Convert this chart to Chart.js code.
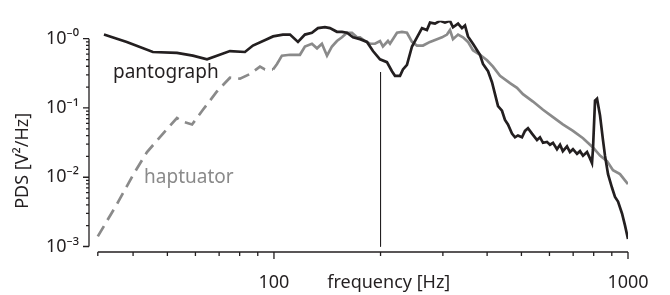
<!DOCTYPE html>
<html>
<head>
<meta charset="utf-8">
<script src="https://cdn.jsdelivr.net/npm/chart.js@4.4.0/dist/chart.umd.min.js"></script>
<style>
  html, body { margin: 0; padding: 0; background: #fff; }
  canvas { display: block; }
</style>
</head>
<body>
<canvas id="pds" width="670" height="295"></canvas>
<script>
// pantograph spectrum (black)
const pantoFreq = [33.1, 38.4, 45.5, 53.2, 59.0, 64.7, 69.0, 75.1, 82.8, 87.2, 95.5, 99.4, 106, 111, 116.9, 122.3, 128, 133.1, 139.3, 143.9,
  150.6, 155.6, 160.8, 167.2, 175, 183.1, 190.4, 199.3, 208.5, 215.4, 219.7, 227, 231.4, 237.5, 245.4, 253.5, 261.9, 270.4, 275.9, 285,
  294.4, 304.1, 314.2, 320.4, 331.1, 339.6, 346.4, 353.2, 364.8, 381.9, 389.4, 402.4, 412.9, 421.1, 429.4, 440.6, 449.3, 458.1, 470.2, 479.5,
  488.8, 501.9, 511.7, 521.8, 535.6, 553.3, 564.2, 575.4, 590.4, 602.1, 614, 630.1, 642.7, 654.6, 672.5, 685.5, 699.2, 717.7, 731.9, 746.4,
  766, 781, 791.2, 796.3, 807, 817.6, 833.6, 849.9, 861, 878.2, 901.3, 919, 937.2, 961.8, 980.6, 1000];
const pantoPds = [1.147, 0.899, 0.643, 0.623, 0.569, 0.504, 0.569, 0.663, 0.643, 0.796, 0.985, 1.079, 1.147, 1.147, 0.899, 1.147, 1.219, 1.42, 1.464, 1.42,
  1.257, 1.257, 1.219, 1.047, 0.985, 0.899, 0.663, 0.504, 0.459, 0.339, 0.291, 0.291, 0.36, 0.419, 0.772, 1.047, 1.42, 1.336, 1.705, 1.654,
  1.81, 1.705, 1.81, 1.464, 1.654, 1.42, 1.556, 1.079, 0.846, 0.586, 0.432, 0.339, 0.235, 0.158, 0.1063, 0.0913, 0.0673, 0.0578, 0.0426, 0.0377,
  0.0401, 0.0377, 0.0467, 0.0511, 0.0426, 0.0344, 0.0377, 0.0314, 0.0324, 0.0295, 0.0314, 0.0254, 0.0295, 0.0238, 0.0278, 0.0231, 0.0254, 0.0218, 0.0238, 0.0205,
  0.0231, 0.0187, 0.016, 0.0254, 0.1276, 0.1357, 0.0783, 0.0344, 0.0205, 0.0111, 0.00704, 0.00519, 0.00446, 0.003, 0.00202, 0.00128];

// haptuator below 100 Hz (dashed)
const haptLowFreq = [31.8, 36.0, 40.0, 42.7, 43.8, 48.6, 53.2, 55.3, 58.7, 63.0, 69.0, 75.1, 80.2, 85.5, 91.3, 94.3, 99.4];
const haptLowPds = [0.0014, 0.00407, 0.0108, 0.0187, 0.0231, 0.0426, 0.0715, 0.0633, 0.0578, 0.0941, 0.173, 0.2735, 0.265, 0.309, 0.395, 0.36, 0.36];

// haptuator from 100 Hz up (solid)
const haptFreq = [99.4, 102, 105.3, 111, 118.4, 122.3, 128, 132.3, 136.6, 141.2, 145.8, 150.6, 155.6, 160.8, 166.1, 171.6, 175, 180.7, 186.8, 192.9,
  199.3, 203.1, 209.9, 212.7, 222.6, 229.9, 237.5, 245.4, 253.5, 263.6, 275.9, 288.7, 298.3, 308.1, 314.2, 320.4, 331.1, 341.9, 353.2, 364.8,
  381.9, 399.8, 415.6, 435, 464.2, 485.8, 505, 539.1, 575.4, 614, 654.6, 699.2, 746.4, 781, 796.3, 833.6, 872.5, 907.1, 949.3, 1000];
const haptPds = [0.36, 0.432, 0.569, 0.586, 0.586, 0.772, 0.846, 0.726, 0.846, 0.569, 0.772, 0.927, 1.047, 1.219, 1.219, 1.047, 1.047, 0.927, 0.846, 0.846,
  0.927, 0.772, 0.927, 0.846, 1.219, 1.257, 1.219, 0.899, 0.796, 0.796, 0.899, 0.985, 1.047, 1.147, 1.336, 0.985, 1.147, 1.047, 0.899, 0.683,
  0.586, 0.489, 0.395, 0.291, 0.2278, 0.1956, 0.158, 0.1238, 0.0941, 0.0737, 0.0578, 0.0467, 0.0366, 0.0295, 0.0269, 0.0205, 0.0171, 0.0126, 0.0111, 0.00796];

// thin vertical marker at 200 Hz
const markerFreq = [200, 200];
const markerPds = [0.33, 0.001];

const yTicks = [0.001, 0.01, 0.1, 1];
const yTickLabels = ['10⁻³', '10⁻²', '10⁻¹', '10⁻⁰'];
const xTicks = [100, 1000];
const xTickLabels = ['100', '1000'];
const xMinorTicks = [31.8, 40, 50, 60, 70, 80, 90, 200, 300, 400, 500, 600, 700, 800, 900];
const xAxisStart = 31.8;

const ink = '#231f20';
const grey = '#8a8a8a';
const fontFamily = '"Noto Sans", "DejaVu Sans", sans-serif';

const toPoints = (f, v) => f.map((x, i) => ({ x: x, y: v[i] }));

// axis lines, tick marks, titles and the two curve names
const frame = {
  id: 'frame',
  afterDraw(chart) {
    const { ctx, chartArea: a, scales: { x, y } } = chart;
    ctx.save();
    ctx.strokeStyle = ink;
    ctx.lineWidth = 1.3;
    ctx.beginPath();
    // y axis
    const yTop = y.getPixelForValue(1);
    const yBot = y.getPixelForValue(0.001);
    ctx.moveTo(a.left, yTop);
    ctx.lineTo(a.left, yBot);
    yTicks.forEach(v => {
      const p = y.getPixelForValue(v);
      ctx.moveTo(a.left - 6, p);
      ctx.lineTo(a.left, p);
    });
    for (let n = -3; n < 0; n++) {
      for (let k = 2; k <= 9; k++) {
        const p = y.getPixelForValue(k * Math.pow(10, n));
        ctx.moveTo(a.left - 3, p);
        ctx.lineTo(a.left, p);
      }
    }
    // x axis
    ctx.moveTo(x.getPixelForValue(xAxisStart), a.bottom);
    ctx.lineTo(x.getPixelForValue(1000), a.bottom);
    xTicks.forEach(v => {
      const p = x.getPixelForValue(v);
      ctx.moveTo(p, a.bottom);
      ctx.lineTo(p, a.bottom + 7);
    });
    xMinorTicks.forEach(v => {
      const p = x.getPixelForValue(v);
      ctx.moveTo(p, a.bottom);
      ctx.lineTo(p, a.bottom + 4);
    });
    ctx.stroke();

    ctx.fillStyle = ink;
    ctx.font = '18px ' + fontFamily;
    ctx.textAlign = 'center';
    ctx.textBaseline = 'alphabetic';
    ctx.fillText('frequency [Hz]', x.getPixelForValue(211), a.bottom + 36);

    ctx.save();
    ctx.translate(a.left - 66, a.top + 140);
    ctx.rotate(-Math.PI / 2);
    ctx.textBaseline = 'middle';
    ctx.fillText('PDS [V²/Hz]', 0, 0);
    ctx.restore();

    ctx.font = '19px ' + fontFamily;
    ctx.textBaseline = 'middle';
    ctx.fillText('pantograph', x.getPixelForValue(49.5), y.getPixelForValue(0.32));
    ctx.fillStyle = grey;
    ctx.fillText('haptuator', x.getPixelForValue(57.5), y.getPixelForValue(0.0098));
    ctx.restore();
  }
};

new Chart(document.getElementById('pds'), {
  type: 'line',
  data: {
    datasets: [
      {
        label: 'pantograph',
        data: toPoints(pantoFreq, pantoPds),
        borderColor: ink,
        borderWidth: 2.7,
        pointRadius: 0,
        tension: 0
      },
      {
        label: 'marker',
        data: toPoints(markerFreq, markerPds),
        borderColor: ink,
        borderWidth: 1,
        pointRadius: 0
      },
      {
        label: 'haptuator',
        data: toPoints(haptFreq, haptPds),
        borderColor: grey,
        borderWidth: 2.7,
        pointRadius: 0,
        tension: 0
      },
      {
        label: 'haptuator (low)',
        data: toPoints(haptLowFreq, haptLowPds),
        borderColor: grey,
        borderWidth: 2.7,
        borderDash: [12, 7],
        pointRadius: 0,
        tension: 0
      }
    ]
  },
  options: {
    responsive: false,
    animation: false,
    devicePixelRatio: 1,
    layout: { padding: { left: 0, right: 42, top: 0, bottom: 0 } },
    plugins: {
      legend: { display: false },
      tooltip: { enabled: false }
    },
    scales: {
      x: {
        type: 'logarithmic',
        min: 30.03,
        max: 1000,
        afterBuildTicks: s => { s.ticks = xTicks.map(v => ({ value: v })); },
        afterFit: s => { s.height = 43; },
        ticks: {
          autoSkip: false,
          maxRotation: 0,
          padding: 20,
          color: ink,
          font: { family: fontFamily, size: 18 },
          callback: v => xTickLabels[xTicks.indexOf(v)]
        },
        grid: { display: false, drawTicks: false },
        border: { display: false }
      },
      y: {
        type: 'logarithmic',
        min: 8.33e-4,
        max: 1.813,
        afterBuildTicks: s => { s.ticks = yTicks.map(v => ({ value: v })); },
        afterFit: s => { s.width = 89; },
        ticks: {
          autoSkip: false,
          padding: 10,
          color: ink,
          font: { family: fontFamily, size: 18 },
          callback: v => yTickLabels[yTicks.indexOf(v)]
        },
        grid: { display: false, drawTicks: false },
        border: { display: false }
      }
    }
  },
  plugins: [frame]
});
</script>
</body>
</html>
